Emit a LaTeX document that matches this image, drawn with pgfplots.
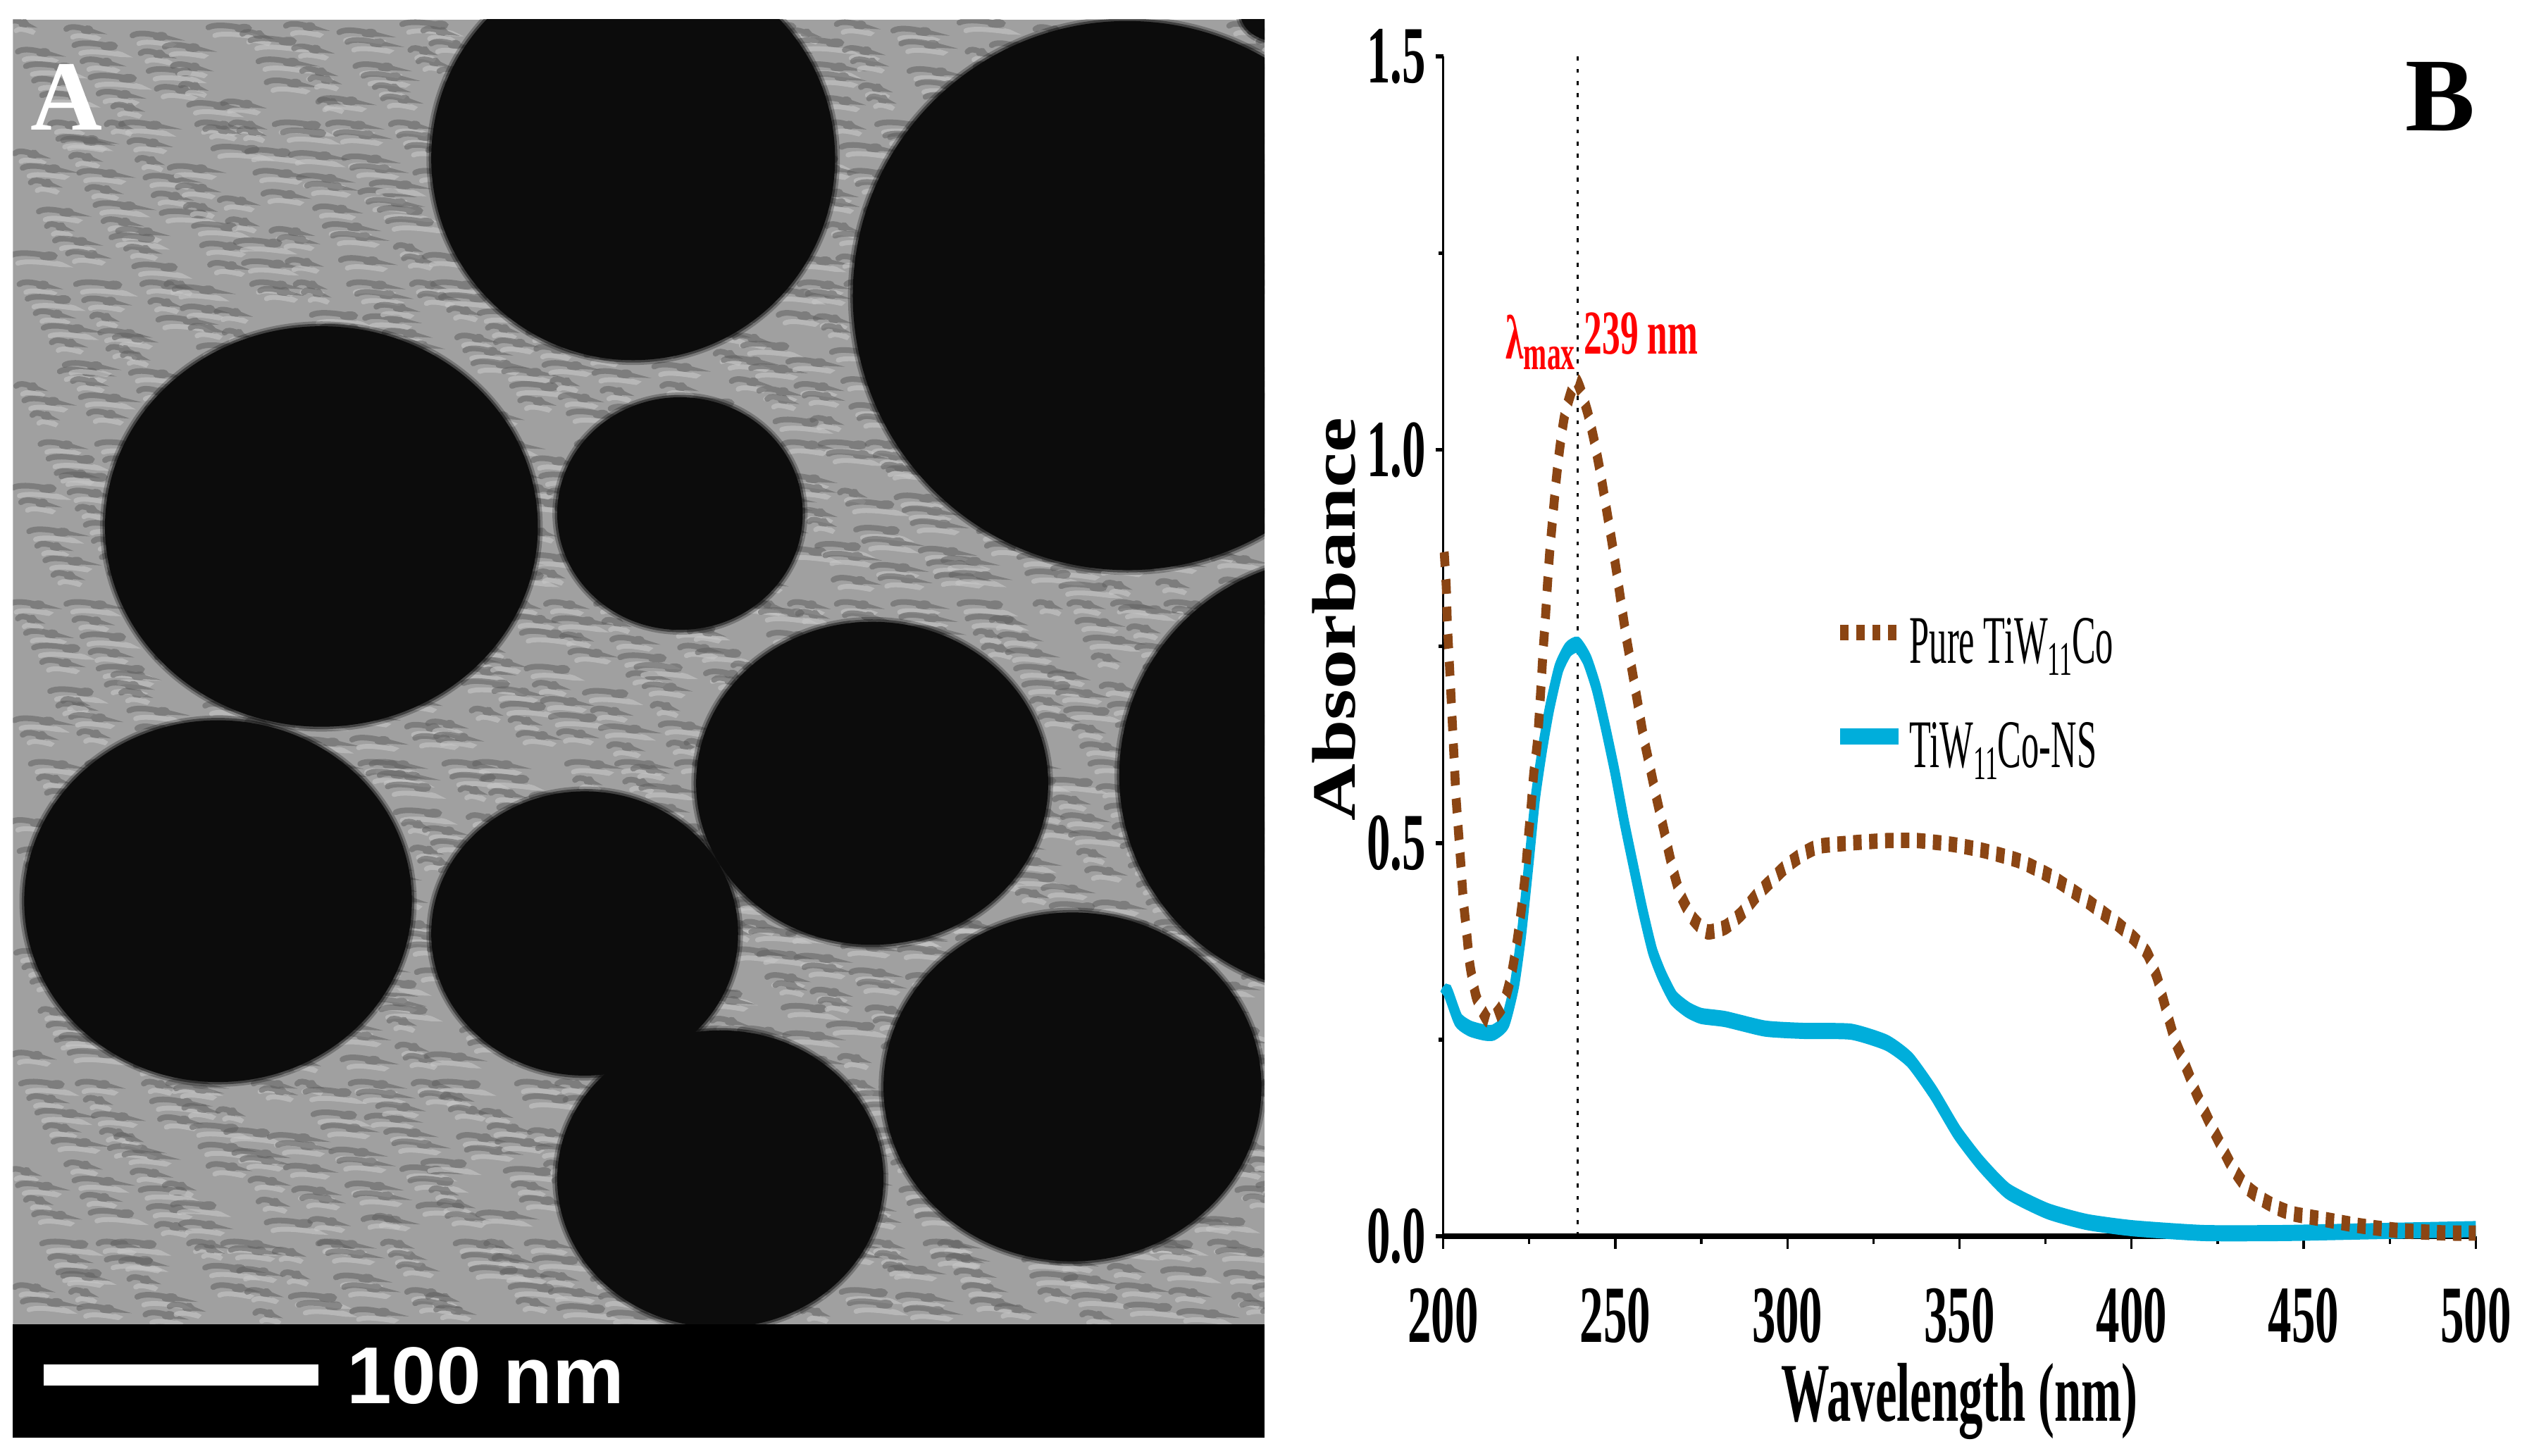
\documentclass[border=0pt]{standalone}
\usepackage{fontspec}
\usepackage{pgfplots}
\pgfplotsset{compat=1.18}
\setmainfont{Liberation Serif}
\newfontfamily\sansb{Liberation Sans}
\definecolor{brownline}{HTML}{8B4513}
\definecolor{blueline}{HTML}{00AEDB}
\definecolor{photobg}{HTML}{A0A0A0}
\definecolor{partdark}{HTML}{0C0C0C}
\pgfplotstableread{
x y
200.3 0.870
200.9 0.825
201.2 0.781
201.7 0.737
202.2 0.693
202.7 0.649
203.2 0.605
203.7 0.561
204.4 0.517
205.1 0.475
205.8 0.430
206.8 0.387
207.8 0.344
209.7 0.303
213.2 0.274
217.3 0.293
219.7 0.330
221.4 0.373
222.7 0.415
223.8 0.458
224.6 0.500
225.5 0.544
226.3 0.588
227.4 0.630
228.4 0.698
229.0 0.742
229.7 0.786
230.3 0.829
231.0 0.873
231.9 0.917
232.8 0.960
233.9 1.003
235.4 1.046
238.6 1.088
241.8 1.050
243.9 1.011
245.7 0.970
247.3 0.928
248.9 0.886
250.4 0.844
251.8 0.802
253.3 0.759
254.9 0.719
256.6 0.676
258.2 0.635
260.1 0.596
262.1 0.555
264.2 0.515
266.2 0.476
268.7 0.437
272.2 0.406
276.7 0.387
282.0 0.393
286.6 0.410
291.2 0.434
295.8 0.454
299.8 0.471
304.9 0.487
309.4 0.496
318.5 0.500
328.8 0.503
337.9 0.503
348.2 0.498
357.3 0.490
367.5 0.477
376.7 0.457
386.2 0.429
395.6 0.398
400.6 0.379
404.5 0.360
407.4 0.329
409.9 0.290
412.6 0.249
415.8 0.215
418.8 0.182
422.2 0.149
425.7 0.118
429.2 0.088
433.3 0.063
438.3 0.046
442.9 0.035
447.4 0.028
456.5 0.021
466.7 0.013
478.0 0.007
491.7 0.004
500.0 0.004
}\puretable
\pgfplotstableread{
x y
200.3 0.305
201.4 0.310
204.4 0.275
207.8 0.264
211.9 0.259
214.6 0.259
218.0 0.272
220.7 0.319
222.7 0.382
224.8 0.470
226.8 0.558
228.9 0.621
230.9 0.671
233.6 0.722
236.3 0.746
239.0 0.752
241.8 0.733
244.5 0.697
247.2 0.646
249.9 0.590
252.6 0.527
255.3 0.470
258.0 0.414
260.8 0.363
263.5 0.332
266.9 0.303
271.0 0.288
275.0 0.280
282.0 0.276
293.5 0.264
304.9 0.261
318.5 0.260
328.8 0.246
335.6 0.224
342.5 0.182
349.3 0.132
356.1 0.093
364.1 0.057
375.5 0.032
387.0 0.018
400.5 0.010
421.0 0.004
443.8 0.004
466.7 0.006
500.0 0.009
}\nstable
\newcommand{\sub}[1]{\raisebox{-0.38ex}{\fontsize{8.5}{9}\selectfont #1}}
\begin{document}
\begin{tikzpicture}
\useasboundingbox (0,0) rectangle (15.68,9.006);
\fill[white] (0,0) rectangle (15.68,9.006);
% panel A: electron micrograph (picture, no data)
\begin{scope}[x=0.01cm,y=-0.01cm,shift={(0cm,9.006cm)}]
\begin{scope}
\clip (8,12) rectangle (783,820);
\fill[photobg] (8,12) rectangle (783,820);
\foreach \r in {0,...,72}{
 \foreach \c in {0,...,24}{
  \pgfmathtruncatemacro{\xx}{6+\c*32+mod(\r*37+\c*\c*3,32)}
  \pgfmathtruncatemacro{\yy}{14+\r*11+mod(\c*13+\r*7+\c*\r,9)}
  \pgfmathtruncatemacro{\ll}{6+mod(\c*\r+\c*3+\r*5,11)}
  \draw[black!62,opacity=.55,line width=0.035cm,line cap=round] (\xx,\yy) .. controls +(\ll*.5,-4) and +(\ll*.8,3) .. +(\ll*1.3,0) .. controls +(\ll*.4,-2) and +(\ll*.7,2) .. +(\ll*1.2,1);
  \draw[white!78!black,opacity=.6,line width=0.03cm,line cap=round] (\xx+4,\yy+5) .. controls +(\ll*.5,-3) and +(\ll*.8,3) .. +(\ll*1.5,0);
 }
}
\foreach \cx/\cy/\rx/\ry in {392/98/125/125,698/183/170/170,199/326/134/124,421/318/76/72,540/485/109/100,830/480/137/135,135/558/120/112,362/578/95/88,446/730/101/92,664/673/117/108,792/8/24/18}{
 \fill[black,opacity=.25] (\cx,\cy) ellipse [x radius=\rx+3,y radius=\ry+3];
 \fill[black,opacity=.45] (\cx,\cy) ellipse [x radius=\rx+1.5,y radius=\ry+1.5];
}
\foreach \cx/\cy/\rx/\ry in {392/98/125/125,698/183/170/170,199/326/134/124,421/318/76/72,540/485/109/100,830/480/137/135,135/558/120/112,362/578/95/88,446/730/101/92,664/673/117/108,792/8/24/18}{
 \fill[partdark] (\cx,\cy) ellipse [x radius=\rx,y radius=\ry];
}
\end{scope}
\fill[black] (8,820) rectangle (783,890);
\fill[white] (27,845) rectangle (197,858);
\node[text=white,anchor=west,inner sep=0,font=\sansb\bfseries\fontsize{14.2}{16}\selectfont] at (214,852) {100 nm};
\node[text=white,anchor=center,inner sep=0,font=\bfseries\fontsize{17.5}{20}\selectfont] at (41,60) {A};
\node[text=black,anchor=center,inner sep=0,font=\bfseries\fontsize{18.4}{20}\selectfont] at (1511,60) {B};
\end{scope}
% panel B: horizontally compressed, as in the reference
\begin{scope}[transform canvas={xscale=0.58}]
\begin{axis}[
  at={(15.3966cm,1.356cm)},anchor=south west,
  scale only axis,width=11.017cm,height=7.30cm,
  xmin=200,xmax=500,ymin=0,ymax=1.5,
  clip=false,
  axis lines=left,
  axis line style={-,black},
  x axis line style={-,line width=0.035cm},
  y axis line style={-,line width=0.025cm},
  xtick={200,250,300,350,400,450,500},
  ytick={0,0.5,1,1.5},
  minor x tick num=1,minor y tick num=1,
  tick align=outside,
  major tick length=0.08cm,minor tick length=0.05cm,
  every tick/.style={black,line width=0.025cm},
  /pgf/number format/assume math mode=true,
  xticklabels={200,250,300,350,400,450,500},
  yticklabels={0.0,0.5,1.0,1.5},
  tick label style={font=\bfseries\fontsize{14.3}{16}\selectfont},
  x tick label style={yshift=-0.12cm},
  y tick label style={xshift=0.02cm},
  xlabel={Wavelength (nm)},
  ylabel={\scalebox{1}[1.345]{\fontsize{13.9}{15}\selectfont\bfseries Absorbance}},
  every axis x label/.style={at={(axis description cs:0.5,-0.14)},anchor=center,font=\bfseries\fontsize{14.7}{16}\selectfont},
  every axis y label/.style={at={(axis description cs:-0.106,0.523)},anchor=center,rotate=90},
  legend style={at={(axis cs:314,0.80)},anchor=north west,draw=none,fill=none,inner sep=0pt,outer sep=0pt,
    font=\fontsize{12}{14}\selectfont,row sep=0.17cm,
    /tikz/every even column/.append style={column sep=0.08cm}},
  legend cell align=left,
  legend image code/.code={\draw[#1] (0cm,0.08cm) -- (0.62cm,0.08cm);},
]
\addplot[black,line width=0.022cm,dash pattern=on 0.025cm off 0.05cm,forget plot] coordinates {(239,0) (239,1.5)};
\addplot[blueline,line width=0.10cm,smooth,tension=0.35,forget plot] table[x=x,y=y] {\nstable};
\addplot[brownline,line width=0.095cm,dash pattern=on 0.09cm off 0.08cm,smooth,tension=0.35] table[x=x,y=y] {\puretable};
\addlegendentry{\scalebox{0.9}[1]{Pure TiW\sub{11}Co}}
\addlegendimage{blueline,line width=0.10cm}
\addlegendentry{\scalebox{0.9}[1]{TiW\sub{11}Co-NS}}
\node[text=red,anchor=base east,inner sep=0,font=\bfseries\fontsize{11}{13}\selectfont] at (axis cs:238.5,1.116) {λ\sub{max}};
\node[text=red,anchor=base west,inner sep=0,font=\bfseries\fontsize{11}{13}\selectfont] at (axis cs:240.8,1.122) {239 nm};
\end{axis}
\end{scope}
\end{tikzpicture}%
\end{document}
